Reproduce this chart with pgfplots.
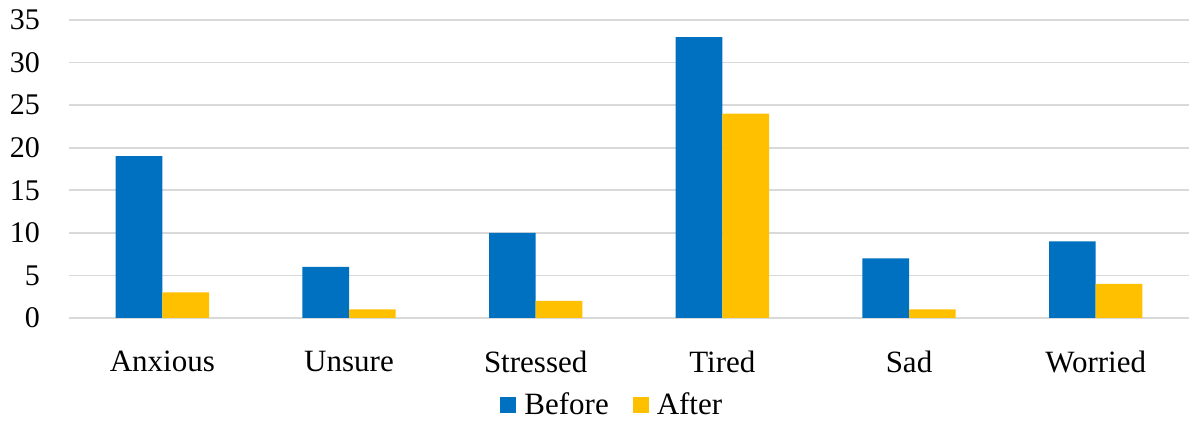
\documentclass[border=0pt]{standalone}
\usepackage{fontspec}
\setmainfont{Liberation Serif}
\usepackage{pgfplots}
\pgfplotsset{compat=1.18}
\definecolor{cBefore}{HTML}{0070C0}
\definecolor{cAfter}{HTML}{FFC000}
\definecolor{cGrid}{HTML}{D9D9D9}
\begin{document}
\begin{tikzpicture}
\begin{axis}[
  name=ax,
  scale only axis,
  width=560pt, height=149pt,
  xmin=-0.5, xmax=5.5, ymin=0, ymax=35,
  ytick={0,5,...,35},
  yticklabel={\pgfmathprintnumber{\tick}},
  xtick={0,1,2,3,4,5},
  xticklabels={Anxious,Unsure,Stressed,Tired,Sad,Worried},
  /pgf/number format/assume math mode=true,
  yticklabel style={font=\fontsize{15}{18}\selectfont, xshift=-11pt},
  xticklabel style={font=\fontsize{15.5}{18}\selectfont, yshift=-13pt},
  major tick length=0pt,
  axis line style={draw=none},
  ymajorgrids,
  major grid style={cGrid, line width=0.8pt},
  ybar=0pt,
  bar width=0.25,
  legend style={
    at={(0.486,-0.292)}, anchor=center,
    draw=none, legend columns=2,
    font=\fontsize{15.5}{18}\selectfont,
    /tikz/every even column/.append style={column sep=10pt},
  },
  legend image code/.code={\fill[#1] (0pt,-4pt) rectangle (8pt,4pt);},
  clip=false,
]
\addplot[fill=cBefore, draw=none, bar shift=-0.125] coordinates {(0,19) (1,6) (2,10) (3,33) (4,7) (5,9)};
\addlegendentry{\hspace{2pt}Before}
\addplot[fill=cAfter, draw=none, bar shift=0.125] coordinates {(0,3) (1,1) (2,2) (3,24) (4,1) (5,4)};
\addlegendentry{\hspace{2pt}After}
\end{axis}
\pgfresetboundingbox
\path ([xshift=-34.5pt,yshift=-53pt]ax.south west) rectangle ([yshift=10pt]ax.north east);
\end{tikzpicture}
\end{document}
